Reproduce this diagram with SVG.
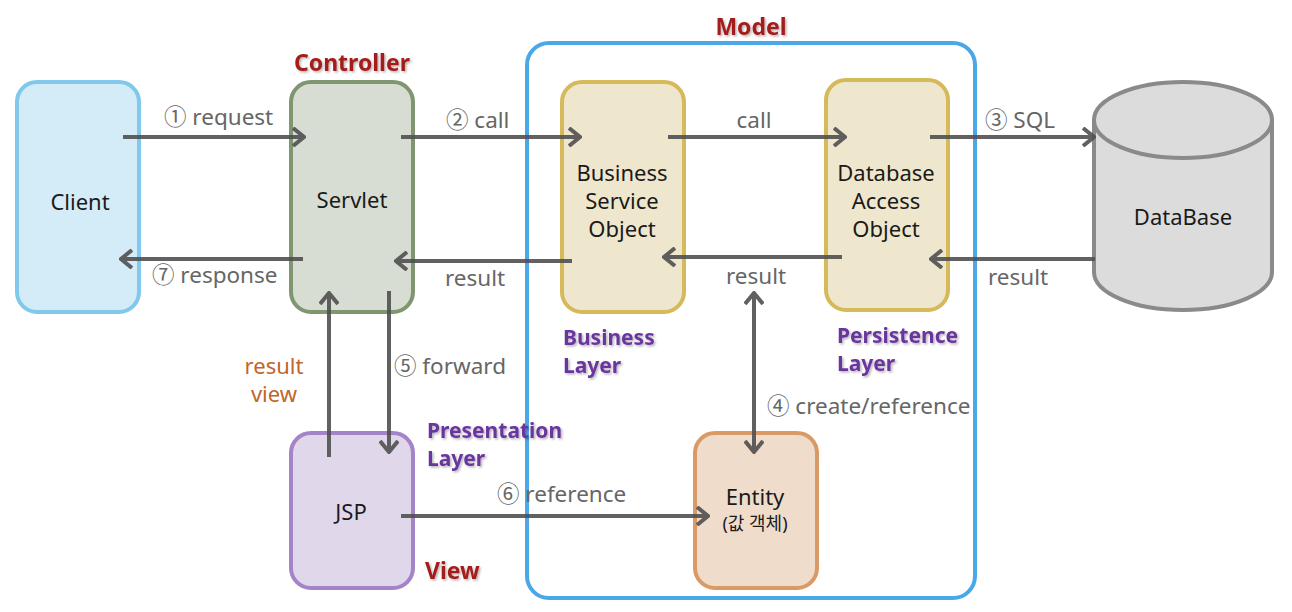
<svg xmlns="http://www.w3.org/2000/svg" width="1292" height="612" viewBox="0 0 1292 612">
<style>
.node rect{stroke-width:4}
.nt{font-family:"Noto Sans","Noto Sans CJK KR",sans-serif;font-size:22px;fill:#1a1a1a;text-anchor:middle}
.lb{font-family:"Noto Sans","Noto Sans CJK KR",sans-serif;font-size:22.5px;fill:#666}
.ttl{font-family:"Noto Sans","Noto Sans CJK KR",sans-serif;font-size:23px;font-weight:bold;fill:#a51d1b}
.lay{font-family:"Noto Sans","Noto Sans CJK KR",sans-serif;font-size:21px;font-weight:bold;fill:#6a359f}
.rv{font-family:"Noto Sans","Noto Sans CJK KR",sans-serif;font-size:22px;fill:#c0652a}
.cn line{stroke:#505050;stroke-width:4;fill:none}
</style>
<defs>
<marker id="ah" viewBox="0 0 14 20" refX="12" refY="10" markerWidth="14" markerHeight="20" markerUnits="userSpaceOnUse" orient="auto-start-reverse">
<path d="M1,1 L12,10 L1,19" fill="none" stroke="#505050" stroke-width="4"/>
</marker>
<filter id="sh" x="-10%" y="-20%" width="130%" height="160%">
<feDropShadow dx="1.5" dy="1.5" stdDeviation="1" flood-color="#000" flood-opacity="0.3"/>
</filter>
</defs>
<rect width="1292" height="612" fill="#fff"/>

<g id="model">
<rect x="527" y="43" width="448" height="555" rx="22" fill="none" stroke="#4aa8e8" stroke-width="4"/>
<text class="ttl" x="751" y="35" text-anchor="middle" filter="url(#sh)">Model</text>
</g>

<g id="client" class="node">
<rect x="17" y="82" width="122" height="230" rx="20" fill="#d4ecf8" stroke="#80c8ec"/>
<text class="nt" x="80" y="210">Client</text>
</g>

<g id="servlet" class="node">
<rect x="291" y="82" width="122" height="230" rx="20" fill="#d8ddd3" stroke="#7f9670"/>
<text class="nt" x="352" y="208">Servlet</text>
<text class="ttl" x="352" y="71" text-anchor="middle" filter="url(#sh)">Controller</text>
</g>

<g id="bso" class="node">
<rect x="562" y="82" width="122" height="230" rx="20" fill="#efe7cd" stroke="#d6b95a"/>
<text class="nt" x="622" y="181">Business</text>
<text class="nt" x="622" y="209">Service</text>
<text class="nt" x="622" y="237">Object</text>
<text class="lay" x="563" y="345" filter="url(#sh)">Business</text>
<text class="lay" x="563" y="373" filter="url(#sh)">Layer</text>
</g>

<g id="dao" class="node">
<rect x="826" y="80" width="122" height="230" rx="20" fill="#efe7cd" stroke="#d6b95a"/>
<text class="nt" x="886" y="181">Database</text>
<text class="nt" x="886" y="209">Access</text>
<text class="nt" x="886" y="237">Object</text>
<text class="lay" x="837" y="343" filter="url(#sh)">Persistence</text>
<text class="lay" x="837" y="371" filter="url(#sh)">Layer</text>
</g>

<g id="database" class="node">
<path d="M1094,120 L1094,272 A89,38 0 0 0 1272,272 L1272,120" fill="#dcdcdc" stroke="#8a8a8a" stroke-width="4"/>
<ellipse cx="1183" cy="120" rx="89" ry="38" fill="#dcdcdc" stroke="#8a8a8a" stroke-width="4"/>
<text class="nt" x="1183" y="225">DataBase</text>
</g>

<g id="jsp" class="node">
<rect x="291" y="433" width="122" height="155" rx="20" fill="#e1d7ea" stroke="#a583c9"/>
<text class="nt" x="351" y="520">JSP</text>
<text class="lay" x="427" y="438" filter="url(#sh)">Presentation</text>
<text class="lay" x="427" y="466" filter="url(#sh)">Layer</text>
<text class="ttl" x="425" y="579" filter="url(#sh)">View</text>
</g>

<g id="entity" class="node">
<rect x="695" y="433" width="122" height="155" rx="20" fill="#f0dccb" stroke="#d99a66"/>
<text class="nt" x="755" y="505">Entity</text>
<text class="nt" x="755" y="530" style="font-size:18px">(값 객체)</text>
</g>

<g id="connectors" class="cn">
<g opacity="0.9">
<line x1="123" y1="137" x2="304" y2="137" marker-end="url(#ah)"/>
<line x1="303" y1="259" x2="121" y2="259" marker-end="url(#ah)"/>
<line x1="401" y1="137" x2="580" y2="137" marker-end="url(#ah)"/>
<line x1="572" y1="261" x2="396" y2="261" marker-end="url(#ah)"/>
<line x1="668" y1="137" x2="845" y2="137" marker-end="url(#ah)"/>
<line x1="842" y1="257" x2="664" y2="257" marker-end="url(#ah)"/>
<line x1="930" y1="137" x2="1094" y2="137" marker-end="url(#ah)"/>
<line x1="1095" y1="259" x2="931" y2="259" marker-end="url(#ah)"/>
<line x1="329" y1="457" x2="329" y2="293" marker-end="url(#ah)"/>
<line x1="389" y1="291" x2="389" y2="452" marker-end="url(#ah)"/>
<line x1="754" y1="293" x2="754" y2="452" marker-start="url(#ah)" marker-end="url(#ah)"/>
<line x1="401" y1="516" x2="708" y2="516" marker-end="url(#ah)"/>
</g>
<text class="lb" x="164" y="125">① request</text>
<text class="lb" x="152" y="283">⑦ response</text>
<text class="lb" x="446" y="128">② call</text>
<text class="lb" x="445" y="286">result</text>
<text class="lb" x="754" y="128" text-anchor="middle">call</text>
<text class="lb" x="756" y="284" text-anchor="middle">result</text>
<text class="lb" x="985" y="128">③ SQL</text>
<text class="lb" x="988" y="285">result</text>
<text class="lb" x="394" y="374">⑤ forward</text>
<text class="lb" x="767" y="414">④ create/reference</text>
<text class="lb" x="497" y="502">⑥ reference</text>
<text class="rv" x="274" y="374" text-anchor="middle">result</text>
<text class="rv" x="274" y="402" text-anchor="middle">view</text>
</g>
</svg>
